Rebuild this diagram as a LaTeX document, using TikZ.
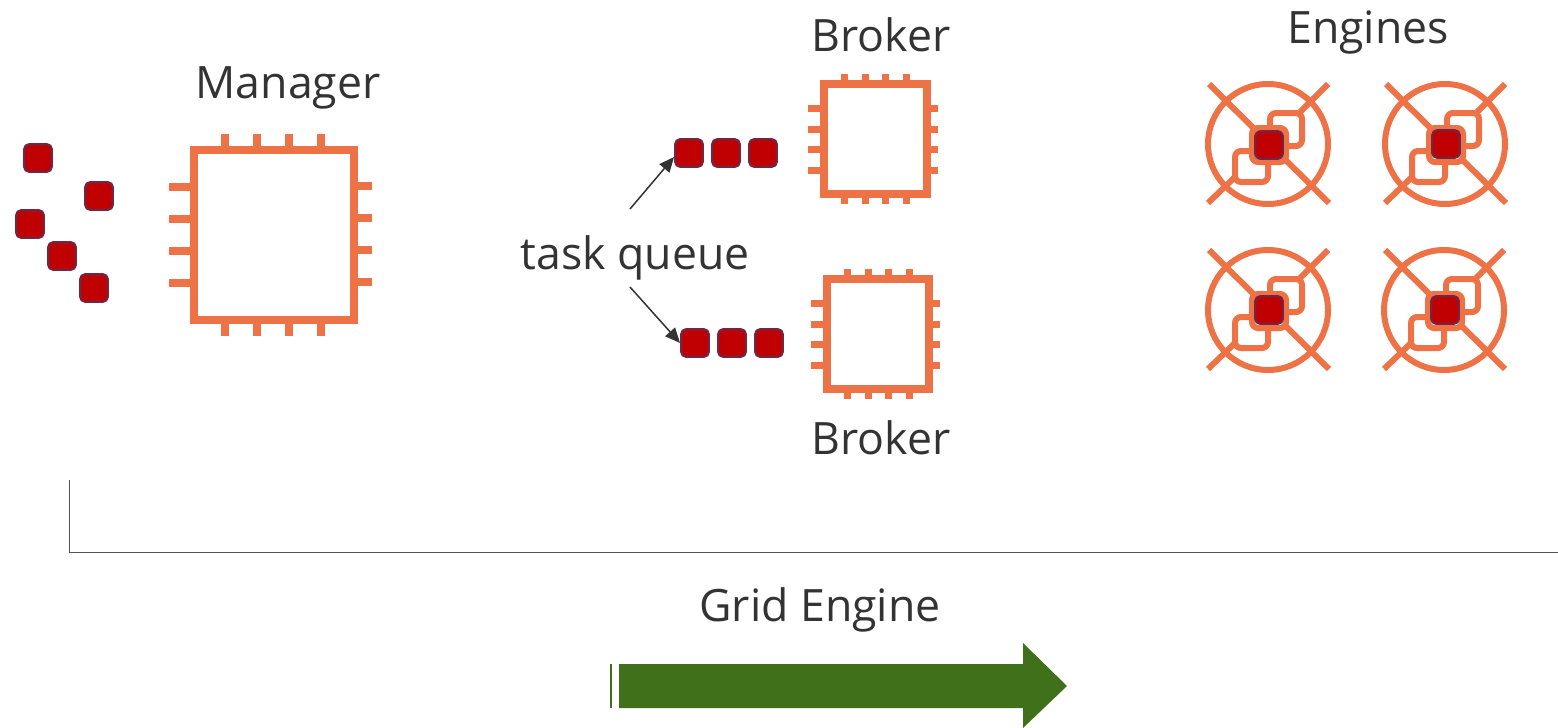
\documentclass[tikz,border=0pt]{standalone}
\usepackage{fontspec}
\setmainfont{Open Sans}
\usetikzlibrary{arrows.meta}
\definecolor{chip}{HTML}{ED7347}
\definecolor{taskred}{HTML}{C00000}
\definecolor{taskedge}{HTML}{7A2340}
\definecolor{ink}{HTML}{333333}
\definecolor{leaf}{HTML}{40701A}
\tikzset{
  x=1pt,y=-1pt,
  lbl/.style={text=ink,font=\fontsize{44.6}{50}\selectfont,inner sep=0pt,anchor=base},
  task/.style={draw=taskedge,fill=taskred,line width=2.4pt,rounded corners=5pt,minimum size=27.5pt,inner sep=0pt},
  chipline/.style={draw=chip,line width=8pt},
  pin/.style={draw=chip,line width=7pt},
  bigpin/.style={draw=chip,line width=8pt},
  engline/.style={draw=chip,line width=6pt},
  engrule/.style={draw=ink,line width=1.5pt},
  axisrule/.style={draw=ink!85,line width=1pt},
  pics/engine/.style={code={
    \draw[engline] (0,0) circle (60);
    \draw[engline] (-59,-60) -- (61,59);
    \draw[engline] (60,-60) -- (32,-32);
    \draw[engline] (-60,59) -- (-32,32);
    \draw[engline,rounded corners=6pt] (2,-16) -- (2,-31) -- (34,-31) -- (34,2) -- (18,2);
    \draw[engline,rounded corners=6pt] (-16,7) -- (-33,7) -- (-33,38) -- (0,38) -- (0,18);
    \draw[engline,fill=white,rounded corners=6pt] (-16,-16) rectangle (18,18);
  }},
}
\newcommand{\pinsH}[4][pin]{\foreach \yy in {#4} {\draw[#1] (#2,\yy) -- (#3,\yy);}}
\newcommand{\pinsV}[4][pin]{\foreach \xx in {#4} {\draw[#1] (\xx,#2) -- (\xx,#3);}}
\begin{document}
\begin{tikzpicture}
\useasboundingbox (0,0) rectangle (1558,728);
% Manager chip
\pinsH[bigpin]{169}{194}{187,219,251,283}
\pinsH[bigpin]{354}{372}{186,218,250,282}
\pinsV[bigpin]{134}{150}{225,257,289,321}
\pinsV[bigpin]{320}{336}{225,257,289,321}
\node[chipline,minimum width=160pt,minimum height=170pt,inner sep=0pt] (manager) at (274,235) {};
% Top broker
\pinsH{808}{824}{108,129,149,170}
\pinsH{927}{938}{108,129,149,170}
\pinsV{74}{84}{844,865,885,906}
\pinsV{194}{204}{844,865,885,906}
\node[chipline,minimum width=103pt,minimum height=110pt,inner sep=0pt] (brokerA) at (875.5,139) {};
% Bottom broker
\pinsH{811}{827}{303,324,344,365}
\pinsH{929}{940}{303,324,344,365}
\pinsV{269}{279}{847,868,888,909}
\pinsV{389}{399}{847,868,888,909}
\node[chipline,minimum width=102pt,minimum height=110pt,inner sep=0pt] (brokerB) at (878,334) {};
% Loose tasks
\node[task] (t1) at (38,158) {};
\node[task] (t2) at (99,196) {};
\node[task] (t3) at (30,224) {};
\node[task] (t4) at (62,256) {};
\node[task] (t5) at (94,288) {};
% Queues
\node[task] (qa1) at (689,153) {};
\node[task] (qa2) at (726,153) {};
\node[task] (qa3) at (763,153) {};
\node[task] (qb1) at (695,343) {};
\node[task] (qb2) at (732,343) {};
\node[task] (qb3) at (769,343) {};
% Engines
\pic at (1268,144) {engine};
\pic at (1445,144) {engine};
\pic at (1268,310) {engine};
\pic at (1444,310) {engine};
\node[task] (e1) at (1269,145) {};
\node[task] (e2) at (1446,144) {};
\node[task] (e3) at (1269,310) {};
\node[task] (e4) at (1445,310) {};
% Labels
\node[lbl] (lmanager) at (288,98) {Manager};
\node[lbl] (lbrokerA) at (881,51) {Broker};
\node[lbl] (lbrokerB) at (881,454) {Broker};
\node[lbl] (lengines) at (1368,43) {Engines};
\node[lbl] (ltq) at (635,269) {task queue};
\node[lbl] (lgrid) at (820,621) {Grid Engine};
% Connectors
\coordinate (tqa) at (630,209);
\coordinate (tqb) at (630,287);
\draw[engrule,-{Triangle[length=15pt,width=13pt]}] (tqa) -- (qa1.195);
\draw[engrule,-{Triangle[length=15pt,width=13pt]}] (tqb) -- (qb1.west);
% Axis
\coordinate (axa) at (69,480);
\coordinate (axb) at (69,552);
\coordinate (axc) at (1558,552);
\draw[axisrule] (axa) -- (axb) -- (axc);
% Big arrow
\fill[leaf] (610,664) rectangle (612,708);
\fill[leaf] (619,664) -- (1023,664) -- (1023,643) -- (1067,686) -- (1023,728) -- (1023,708) -- (619,708) -- cycle;
\end{tikzpicture}
\end{document}
